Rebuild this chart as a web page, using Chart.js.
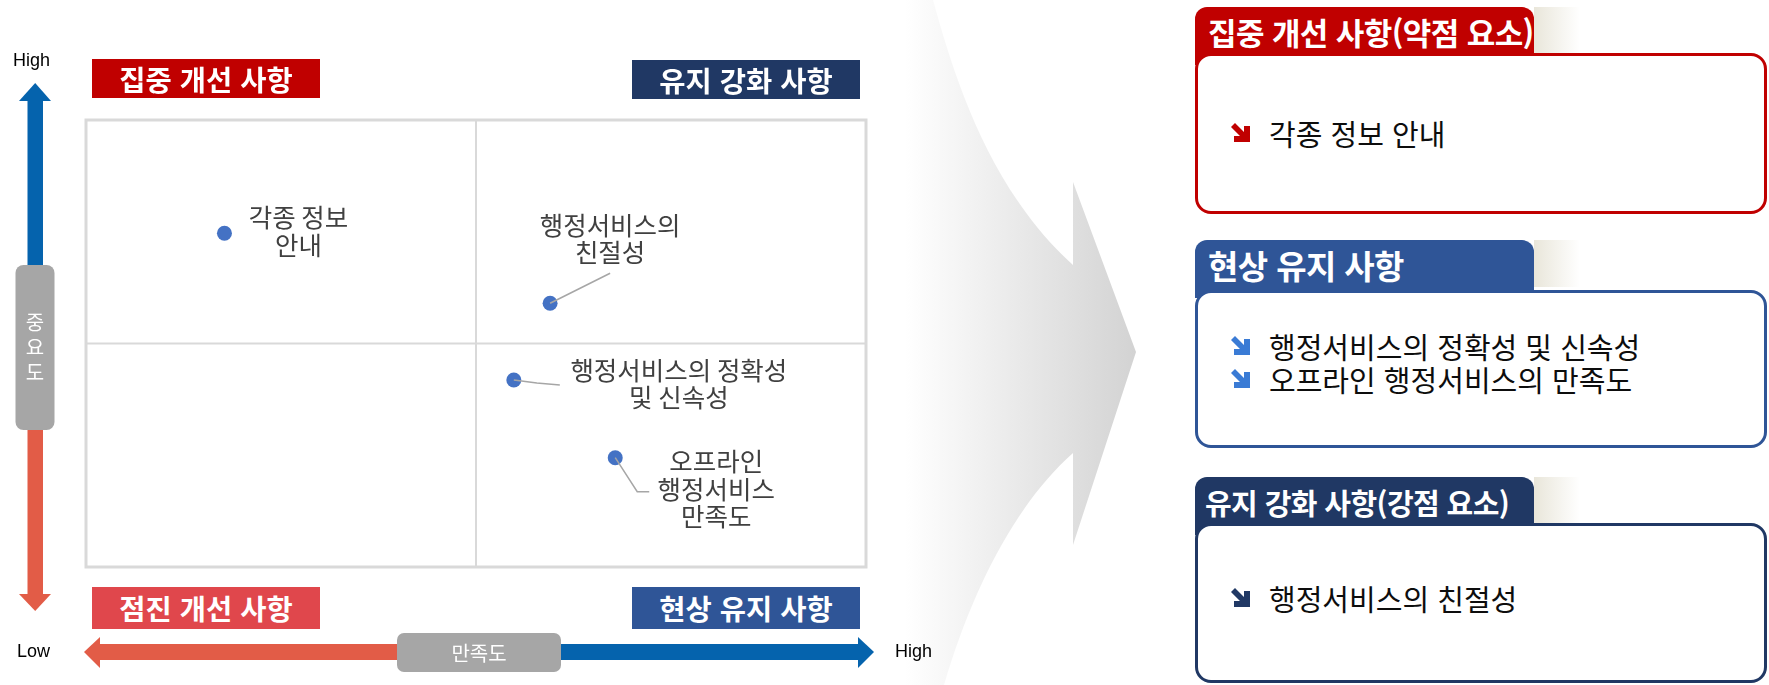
<!DOCTYPE html>
<html lang="ko">
<head>
<meta charset="utf-8">
<title>IPA 분석</title>
<script src="https://cdn.jsdelivr.net/npm/chart.js@4.4.1/dist/chart.umd.min.js"></script>
<style>
  body { margin: 0; width: 1769px; height: 685px; overflow: hidden; background: #fff;
         font-family: 'Noto Sans CJK KR', 'Noto Sans', sans-serif; position: relative; }
  #deco { position: absolute; left: 0; top: 0; }
  #ipa { position: absolute; left: 0; top: 0; }
  .qlab { position: absolute; width: 228px; color: #fff; font-weight: 700; font-size: 28.5px;
          text-align: center; white-space: nowrap; }
  .axis { position: absolute; font-family: 'Liberation Sans', Arial, sans-serif; font-size: 18px; color: #000; }
  .pilltxt { position: absolute; color: #fff; font-size: 20px; text-align: center; }
  .tab { position: absolute; left: 1195px; width: 339px; height: 58px; border-radius: 12px 12px 0 0;
         color: #fff; font-weight: 700; line-height: 50px;
         box-sizing: border-box; white-space: nowrap; letter-spacing: -0.6px; }
  .shade { position: absolute; left: 1534px; width: 46px; height: 47px;
           background: linear-gradient(to right, #E9E6DA, rgba(255,255,255,0)); }
  .box { position: absolute; left: 1195px; width: 572px; border: 3px solid; border-radius: 16px;
         background: #fff; box-sizing: border-box; }
  .item { position: absolute; left: 32px; display: flex; align-items: center; font-size: 29px;
          color: #0D0D0D; white-space: nowrap; height: 32px; }
  .item svg { margin-right: 17px; flex: none; }
</style>
</head>
<body>
<svg id="deco" width="1769" height="685">
  <defs>
    <linearGradient id="chev" gradientUnits="userSpaceOnUse" x1="905" y1="0" x2="1140" y2="0">
      <stop offset="0" stop-color="#ffffff"/>
      <stop offset="1" stop-color="#D2D2D2"/>
    </linearGradient>
  </defs>
  <path d="M 900 0 L 933 0 C 955 80, 990 190, 1073 265 L 1073 182 L 1136 352 L 1073 545 L 1073 453 C 1020 500, 975 580, 944 685 L 900 685 Z" fill="url(#chev)"/>
  <!-- vertical axis arrow -->
  <rect x="27.5" y="99" width="15.5" height="170" fill="#0563AD"/>
  <polygon points="19,101 35.2,83 51,101" fill="#0563AD"/>
  <rect x="27.5" y="425" width="15.5" height="170" fill="#E25C47"/>
  <polygon points="19,594 51,594 35.2,611" fill="#E25C47"/>
  <rect x="15.5" y="265" width="39" height="165" rx="8" fill="#A6A6A6"/>
  <!-- horizontal axis arrow -->
  <rect x="99" y="644" width="302" height="16" fill="#E25C47"/>
  <polygon points="84,652 100,637 100,668" fill="#E25C47"/>
  <rect x="557" y="644" width="302" height="16" fill="#0563AD"/>
  <polygon points="874,652 858,637 858,668" fill="#0563AD"/>
  <rect x="397" y="633" width="164" height="39" rx="7" fill="#A6A6A6"/>
</svg>

<canvas id="ipa" width="900" height="685"></canvas>

<div class="qlab" style="left:92px;top:59px;height:39px;line-height:39px;background:#C00000">집중 개선 사항</div>
<div class="qlab" style="left:632px;top:60px;height:39px;line-height:39px;background:#203864">유지 강화 사항</div>
<div class="qlab" style="left:92px;top:587px;height:42px;line-height:42px;background:#E0474C">점진 개선 사항</div>
<div class="qlab" style="left:632px;top:587px;height:42px;line-height:42px;background:#2F5597">현상 유지 사항</div>

<div class="axis" style="left:13px;top:50px">High</div>
<div class="axis" style="left:17px;top:641px">Low</div>
<div class="axis" style="left:895px;top:641px">High</div>
<div class="pilltxt" style="left:15px;top:309px;width:40px;line-height:25px">중<br>요<br>도</div>
<div class="pilltxt" style="left:397px;top:633px;width:164px;line-height:39px">만족도</div>

<div id="panels"></div>

<script>
// IPA data: satisfaction (x) / importance (y)
const categories = ['각종 정보 안내', '행정서비스의 친절성', '행정서비스의 정확성 및 신속성', '오프라인 행정서비스 만족도'];
const labelLines = [['각종 정보', '안내'], ['행정서비스의', '친절성'], ['행정서비스의 정확성', '및 신속성'], ['오프라인', '행정서비스', '만족도']];
const satisfaction = [63.55, 71.90, 70.97, 73.57];
const importance = [74.93, 71.80, 68.37, 64.89];
const xRange = [60, 80];
const yRange = [60, 80];
const xMean = 70;
const yMean = 70;

// right side summary
const panelTitles = ['집중 개선 사항(약점 요소)', '현상 유지 사항', '유지 강화 사항(강점 요소)'];
const panelItems = [['각종 정보 안내'], ['행정서비스의 정확성 및 신속성', '오프라인 행정서비스의 만족도'], ['행정서비스의 친절성']];

// label placement relative to each point (pixels)
const labelPlace = [
  { dx: 74, dy: [-16, 12], leader: [] },
  { dx: 60, dy: [-78, -51], leader: [[60, -30]] },
  { dx: 165, dy: [-10, 17], leader: [[23, 3], [46, 5]] },
  { dx: 101, dy: [4, 32, 59], leader: [[22, 34], [34, 34]] }
];

const quadrantGrid = {
  id: 'quadrantGrid',
  beforeDatasetsDraw(chart) {
    const { ctx, chartArea: a, scales: { x, y } } = chart;
    const mx = x.getPixelForValue(xMean);
    const my = y.getPixelForValue(yMean);
    ctx.save();
    ctx.strokeStyle = '#D9D9D9';
    ctx.lineWidth = 2;
    ctx.beginPath();
    ctx.moveTo(mx, a.top); ctx.lineTo(mx, a.bottom);
    ctx.moveTo(a.left, my); ctx.lineTo(a.right, my);
    ctx.stroke();
    ctx.lineWidth = 3;
    ctx.strokeRect(a.left, a.top, a.right - a.left, a.bottom - a.top);
    ctx.restore();
  }
};

const pointLabels = {
  id: 'pointLabels',
  afterDatasetsDraw(chart) {
    const { ctx } = chart;
    const pts = chart.getDatasetMeta(0).data;
    ctx.save();
    pts.forEach((p, i) => {
      const pl = labelPlace[i];
      if (pl.leader.length) {
        ctx.strokeStyle = '#A6A6A6';
        ctx.lineWidth = 1.5;
        ctx.beginPath();
        ctx.moveTo(p.x, p.y);
        pl.leader.forEach(([dx, dy]) => ctx.lineTo(p.x + dx, p.y + dy));
        ctx.stroke();
      }
      ctx.fillStyle = '#404040';
      ctx.font = '25.5px "Noto Sans CJK KR"';
      ctx.textAlign = 'center';
      ctx.textBaseline = 'middle';
      labelLines[i].forEach((t, k) => ctx.fillText(t, p.x + pl.dx, p.y + pl.dy[k]));
    });
    ctx.restore();
  }
};

new Chart(document.getElementById('ipa'), {
  type: 'scatter',
  data: {
    datasets: [{
      label: '중요도-만족도',
      data: categories.map((c, i) => ({ x: satisfaction[i], y: importance[i] })),
      backgroundColor: '#4472C4',
      borderWidth: 0,
      pointRadius: 7.5
    }]
  },
  options: {
    responsive: false,
    animation: false,
    devicePixelRatio: 1,
    layout: { padding: { left: 86, top: 120, right: 34, bottom: 118 } },
    scales: {
      x: { display: false, min: xRange[0], max: xRange[1] },
      y: { display: false, min: yRange[0], max: yRange[1] }
    },
    plugins: { legend: { display: false }, tooltip: { enabled: false } }
  },
  plugins: [quadrantGrid, pointLabels]
});

// summary panels
const panelColors = ['#C00000', '#2F5597', '#203864'];
const iconColors = ['#C00000', '#3A7BD5', '#203864'];
const tabFont = [31, 33, 29];
const tabPad = [13, 13, 10];
const tabTops = [7, 240, 477];
const boxTops = [53, 290, 523];
const boxHeights = [161, 158, 160];
const itemTops = [[61], [37, 70], [56]];

const holder = document.getElementById('panels');
panelTitles.forEach((title, i) => {
  const tab = document.createElement('div');
  tab.className = 'tab';
  tab.style.top = tabTops[i] + 'px';
  tab.style.background = panelColors[i];
  tab.style.fontSize = tabFont[i] + 'px';
  tab.style.paddingLeft = tabPad[i] + 'px';
  tab.textContent = title;
  holder.appendChild(tab);

  const shade = document.createElement('div');
  shade.className = 'shade';
  shade.style.top = tabTops[i] + 'px';
  holder.appendChild(shade);

  const box = document.createElement('div');
  box.className = 'box';
  box.style.top = boxTops[i] + 'px';
  box.style.height = boxHeights[i] + 'px';
  box.style.borderColor = panelColors[i];
  panelItems[i].forEach((txt, k) => {
    const row = document.createElement('div');
    row.className = 'item';
    row.style.top = itemTops[i][k] + 'px';
    row.innerHTML = '<svg width="22" height="20" viewBox="0 0 22 20"><path d="M1 4 L5 0 L14 9 L14 3 L20 3 L20 19 L4 19 L4 13 L10 13 Z" fill="' + iconColors[i] + '"/></svg>';
    row.appendChild(document.createTextNode(txt));
    box.appendChild(row);
  });
  holder.appendChild(box);
});
</script>
</body>
</html>
